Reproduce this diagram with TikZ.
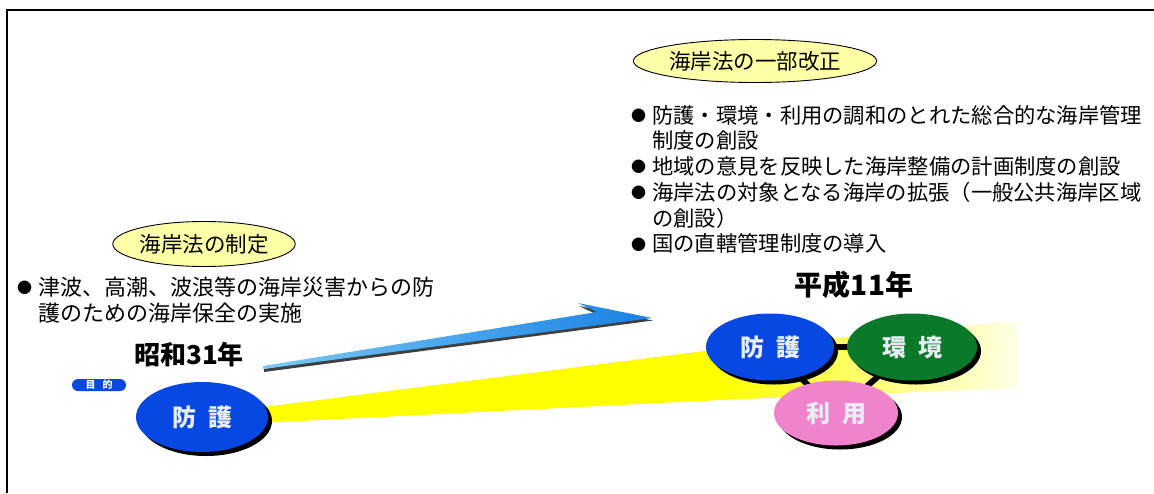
\documentclass[tikz,border=0pt]{standalone}
\usepackage{fontspec}
\setmainfont{Noto Sans CJK JP}
\usetikzlibrary{shapes.geometric,shadows}
\pgfdeclarelayer{bg}
\pgfsetlayers{bg,main}
\definecolor{circblue}{RGB}{8,72,226}
\definecolor{circgreen}{RGB}{10,122,42}
\definecolor{circpink}{RGB}{240,132,204}
\definecolor{bandyellow}{RGB}{255,255,0}
\definecolor{titlefill}{RGB}{255,255,168}
\definecolor{arrowlight}{RGB}{120,200,245}
\definecolor{arrowdark}{RGB}{25,130,228}
\definecolor{circtext}{RGB}{232,238,246}
\newcommand{\bul}{\raisebox{1.5pt}{\fontsize{15}{15}\selectfont ●}}
\tikzset{
  titleell/.style={ellipse, draw=black, line width=0.9pt, fill=titlefill, inner sep=0pt,
    font=\fontsize{21.5}{21.5}\selectfont},
  bullist/.style={inner sep=0pt, anchor=base west, font=\fontsize{21.3}{25.6}\selectfont},
  yearlabel/.style={inner sep=0pt, font=\bfseries\fontsize{26}{26}\selectfont},
  circ/.style={ellipse, inner sep=0pt, text=circtext,
    font=\bfseries\fontsize{24}{24}\selectfont,
    general shadow={fill=black, shadow xshift=4pt, shadow yshift=-4pt}},
  link/.style={line width=6pt, black},
  pill/.style={rectangle, rounded corners=6pt, fill=circblue, text=white, inner sep=0pt,
    minimum width=54pt, minimum height=12pt, font=\bfseries\fontsize{10}{10}\selectfont}
}
\begin{document}
\begin{tikzpicture}[x=1pt,y=-1pt]
\useasboundingbox (0,0) rectangle (1154,493);
% frame
\draw[line width=2.2pt] (7,493) -- (7,10) -- (1154,10);

% yellow band
\begin{pgfonlayer}{bg}
\fill[bandyellow] (240,410) -- (720,349) -- (720,400) -- (240,424) -- cycle;
\shade[left color=bandyellow, right color=bandyellow!10] (719.5,349) -- (1017,321) -- (1017,388) -- (719.5,400) -- cycle;
\end{pgfonlayer}

% blue arrow
\fill[black!75] (264,369) -- (598,315) -- (579,306) -- (653,320.5) -- (264,372) -- cycle;
\shade[left color=arrowlight, right color=arrowdark] (263,366) -- (597,312) -- (578,303) -- (652,318) -- (263,369) -- cycle;

% titles
\node[titleell, minimum width=180pt, minimum height=45pt] (t1) at (204,244) {海岸法の制定};
\node[titleell, minimum width=232pt, minimum height=43pt] (t2) at (755,61) {海岸法の一部改正};

% bullet lists
\node[bullist, font=\fontsize{22}{25.6}\selectfont] (l1) at (17,295) {\begin{tabular}[t]{@{}l@{\hspace{6pt}}l@{}}\bul&津波、高潮、波浪等の海岸災害からの防\\&護のための海岸保全の実施\end{tabular}};
\node[bullist] (l2) at (631,123) {\begin{tabular}[t]{@{}l@{\hspace{6pt}}l@{}}\bul&防護・環境・利用の調和のとれた総合的な海岸管理\\&制度の創設\\\bul&地域の意見を反映した海岸整備の計画制度の創設\\\bul&海岸法の対象となる海岸の拡張（一般公共海岸区域\\&の創設）\\\bul&国の直轄管理制度の導入\end{tabular}};

% years
\node[yearlabel] (y1) at (189,355) {昭和31年};
\node[yearlabel, font=\bfseries\fontsize{28}{28}\selectfont] (y2) at (854,285) {平成11年};

% purpose pill
\node[pill] (mok) at (99,385) {目\hspace{7pt}的};

% circles
\node[circ, fill=circblue, minimum width=132pt, minimum height=70pt] (b1) at (202,417) {防\hspace{12pt}護};
\node[circ, fill=circblue, minimum width=128pt, minimum height=67pt] (b2) at (770,347) {防\hspace{12pt}護};
\node[circ, fill=circgreen, minimum width=130pt, minimum height=67pt] (k2) at (912,347) {環\hspace{12pt}境};
\node[circ, fill=circpink, minimum width=124pt, minimum height=65pt] (r2) at (836,413) {利\hspace{12pt}用};

% links between the three circles
\begin{pgfonlayer}{bg}
\draw[link] (b2.center) -- (k2.center);
\draw[link] (b2.center) -- (r2.center);
\draw[link] (k2.center) -- (r2.center);
\end{pgfonlayer}
\end{tikzpicture}
\end{document}
